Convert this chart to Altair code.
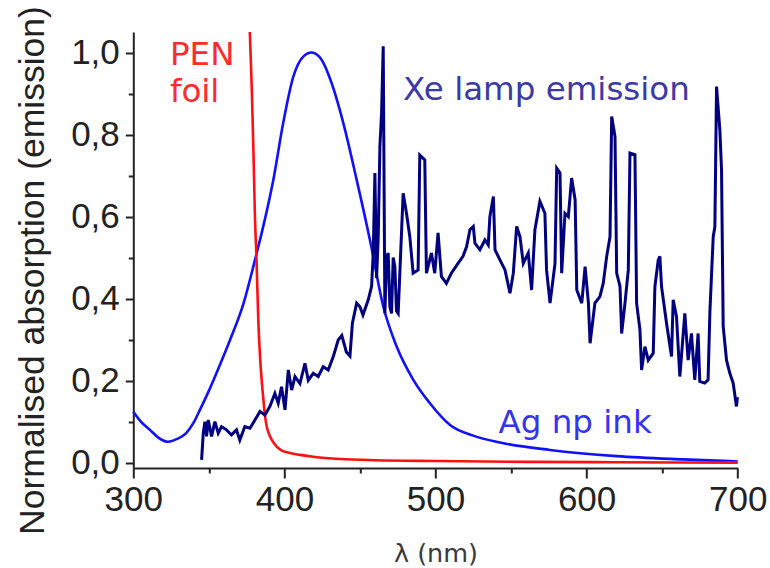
import altair as alt
import pandas as pd

# ---- data ----
ag_wl = [300, 305, 311, 317, 323, 329, 335, 340, 344, 350, 355, 364, 373, 380.5, 386, 392.7, 399.2,
         405.9, 412.5, 418, 424.7, 431.3, 439, 447.8, 456.6, 465.5, 474.3, 485.3, 496.3, 509.6,
         525, 542.7, 575.8, 619.9, 663.8, 700]
ag_val = [0.124, 0.100, 0.080, 0.060, 0.051, 0.058, 0.072, 0.098, 0.128, 0.175, 0.218, 0.299, 0.389,
          0.494, 0.576, 0.690, 0.828, 0.941, 0.990, 1.000, 0.982, 0.925, 0.828, 0.690, 0.543, 0.380,
          0.283, 0.202, 0.145, 0.092, 0.066, 0.049, 0.031, 0.016, 0.008, 0.003]

pen_wl = [376.5, 377.2, 378.5, 379.5, 380.5, 381.5, 382.7, 384.0, 385.0, 386.2, 387.2, 388.5, 390.5,
          393, 397.1, 403, 410.3, 420, 437, 460, 500, 560, 620, 700]
pen_val = [1.12, 1.04, 0.90, 0.76, 0.60, 0.50, 0.35, 0.25, 0.20, 0.15, 0.113, 0.085, 0.064,
           0.048, 0.032, 0.024, 0.019, 0.014, 0.009, 0.006, 0.004, 0.002, 0.001, 0.0]

xe_wl = [345.2, 346.3, 347.4, 348.5, 349.6, 351.8, 354.0, 356.2, 358.4, 361.7, 365.0, 368.3, 370.5,
         373.8, 377.2, 380.5, 383.8, 387.1, 390.4, 393.7, 395.9, 398.1, 400.4, 402.6, 404.8, 407.0,
         410.3, 413.6, 415.8, 419.1, 422.4, 425.7, 429.0, 432.3, 435.6, 438.0, 441.0, 443.4, 445.0,
         447.8, 450.0, 452.0, 455.5, 457.7, 458.8, 459.9, 461.0, 462.1, 463.2, 464.3, 465.4, 466.5,
         467.6, 468.7, 469.8, 470.9, 472.0, 473.1, 474.2, 475.3, 476.4, 478.6, 480.8, 483.0, 485.2,
         488.5, 489.6, 492.9, 494.0, 497.3, 499.5, 501.7, 503.9, 507.2, 510.5, 514.9, 518.2, 520.6,
         522.8, 525.0, 526.1, 529.4, 532.7, 534.9, 536.0, 538.3, 539.4, 542.7, 546.0, 549.3, 551.5,
         553.7, 555.9, 558.1, 561.4, 563.6, 565.8, 569.1, 572.4, 573.5, 575.8, 579.1, 580.2, 582.4,
         583.5, 585.7, 587.9, 590.1, 592.4, 593.5, 596.8, 599.0, 601.2, 602.3, 605.5, 608.8, 611.0,
         613.3, 615.5, 616.6, 618.8, 619.9, 622.1, 623.2, 625.4, 627.6, 628.7, 632.0, 633.1, 635.3,
         636.4, 638.6, 640.8, 644.1, 645.2, 647.4, 648.5, 649.6, 652.9, 656.2, 657.3, 659.5, 661.7,
         665.0, 667.2, 669.4, 671.6, 673.8, 674.9, 678.2, 680.4, 681.6, 683.8, 684.9, 686.0, 688.2,
         689.3, 690.4, 692.6, 694.8, 697.0, 699.2, 699.8]
xe_val = [0.007, 0.072, 0.100, 0.064, 0.104, 0.064, 0.100, 0.072, 0.088, 0.080, 0.068, 0.080, 0.055,
          0.088, 0.084, 0.104, 0.125, 0.116, 0.137, 0.169, 0.145, 0.185, 0.129, 0.226, 0.177, 0.210,
          0.193, 0.242, 0.201, 0.218, 0.210, 0.234, 0.226, 0.258, 0.299, 0.310, 0.270, 0.260, 0.340,
          0.389, 0.380, 0.360, 0.397, 0.430, 0.511, 0.706, 0.450, 0.550, 0.771, 0.852, 1.015, 0.364,
          0.500, 0.511, 0.380, 0.364, 0.500, 0.478, 0.370, 0.364, 0.462, 0.657, 0.608, 0.551, 0.462,
          0.470, 0.750, 0.738, 0.462, 0.511, 0.462, 0.560, 0.454, 0.437, 0.462, 0.486, 0.503, 0.527,
          0.568, 0.576, 0.535, 0.519, 0.543, 0.531, 0.600, 0.649, 0.519, 0.494, 0.470, 0.413, 0.462,
          0.576, 0.551, 0.486, 0.511, 0.421, 0.568, 0.637, 0.608, 0.470, 0.389, 0.486, 0.718, 0.706,
          0.462, 0.608, 0.600, 0.694, 0.641, 0.421, 0.389, 0.478, 0.389, 0.291, 0.389, 0.405, 0.437,
          0.503, 0.551, 0.844, 0.795, 0.462, 0.430, 0.315, 0.389, 0.470, 0.755, 0.751, 0.389, 0.324,
          0.226, 0.283, 0.250, 0.267, 0.429, 0.494, 0.503, 0.429, 0.340, 0.259, 0.397, 0.356, 0.210,
          0.364, 0.250, 0.315, 0.202, 0.315, 0.198, 0.194, 0.202, 0.368, 0.551, 0.575, 0.917, 0.811,
          0.714, 0.332, 0.250, 0.218, 0.194, 0.137, 0.160]

label_text = ["PEN", "foil", "Xe lamp emission", "Ag np ink"]
label_x = [324.3, 324.3, 478.5, 541.7]
label_y = [0.970, 0.880, 0.885, 0.072]
label_col = ["#ff2b2b", "#ff2b2b", "#3a3aa6", "#3434f2"]

x_major = [300, 400, 500, 600, 700]
x_minor = [350, 450, 550, 650]
y_major = [0.0, 0.2, 0.4, 0.6, 0.8, 1.0]
y_minor = [0.1, 0.3, 0.5, 0.7, 0.9]

ag = pd.DataFrame({"wl": ag_wl, "v": ag_val})
pen = pd.DataFrame({"wl": pen_wl, "v": pen_val})
xe = pd.DataFrame({"wl": xe_wl, "v": xe_val})
labels = pd.DataFrame({"label": label_text, "lx": label_x, "ly": label_y, "col": label_col})

xscale = alt.Scale(domain=[300, 700], nice=False, zero=False)
yscale = alt.Scale(domain=[-0.013, 1.05], nice=False, zero=False)

AX = "#222222"
major_x_axis = alt.Axis(values=x_major, orient="bottom", tickSize=10, tickWidth=2, tickColor=AX,
                        domain=True, domainWidth=2, domainColor=AX, grid=False,
                        labelFont="Liberation Sans", labelFontSize=35, labelColor=AX,
                        labelPadding=4, labelFlush=False, labelOverlap=False, format="d",
                        title="λ (nm)", titleFont="DejaVu Sans", titleFontSize=25.5,
                        titleFontWeight="normal", titleColor="#3a3a3a", titleY=93,
                        titleBaseline="alphabetic")
minor_x_axis = alt.Axis(values=x_minor, orient="bottom", tickSize=5, tickWidth=2, tickColor=AX,
                        domain=False, labels=False, grid=False, title=None)
major_y_axis = alt.Axis(values=y_major, orient="left", tickSize=8, tickWidth=2, tickColor=AX,
                        domain=True, domainWidth=2, domainColor=AX, grid=False,
                        labelFont="Liberation Sans", labelFontSize=35, labelColor=AX,
                        labelPadding=6, labelFlush=False, labelOverlap=False,
                        labelExpr="replace(format(datum.value, '.1f'), '.', ',')",
                        title="Normalised absorption (emission)", titleFont="Liberation Sans",
                        titleFontSize=35.5, titleFontWeight="normal", titleColor=AX,
                        titleAngle=270, titleX=-90, titleY=238, titleAlign="center",
                        titleBaseline="alphabetic")
minor_y_axis = alt.Axis(values=y_minor, orient="left", tickSize=5, tickWidth=2, tickColor=AX,
                        domain=False, labels=False, grid=False, title=None)

ag_line = alt.Chart(ag).mark_line(color="#1010ff", strokeWidth=2.6, interpolate="monotone").encode(
    x=alt.X("wl:Q", scale=xscale, axis=major_x_axis),
    y=alt.Y("v:Q", scale=yscale, axis=major_y_axis),
)
pen_line = alt.Chart(pen).mark_line(color="#ff1010", strokeWidth=2.6, interpolate="monotone",
                                    clip=True).encode(
    x=alt.X("wl:Q", scale=xscale, axis=minor_x_axis),
    y=alt.Y("v:Q", scale=yscale, axis=minor_y_axis),
)
xe_line = alt.Chart(xe).mark_line(color="#000080", strokeWidth=3).encode(
    x=alt.X("wl:Q", scale=xscale, axis=None),
    y=alt.Y("v:Q", scale=yscale, axis=None),
)
texts = alt.Chart(labels).mark_text(align="left", baseline="alphabetic", font="DejaVu Sans",
                                    fontSize=32.5).encode(
    x=alt.X("lx:Q", scale=xscale, axis=None),
    y=alt.Y("ly:Q", scale=yscale, axis=None),
    text="label:N",
    color=alt.Color("col:N", scale=None),
)

chart = alt.layer(ag_line, pen_line, xe_line, texts).resolve_axis(
    x="independent", y="independent"
).properties(
    width=604.4, height=436,
    autosize=alt.AutoSizeParams(type="none"),
    padding={"left": 133.3, "top": 32, "right": 32.3, "bottom": 100},
    background="white",
).configure_view(stroke=None)

chart.save("out.html", embed_options={"renderer": "svg", "actions": False})
